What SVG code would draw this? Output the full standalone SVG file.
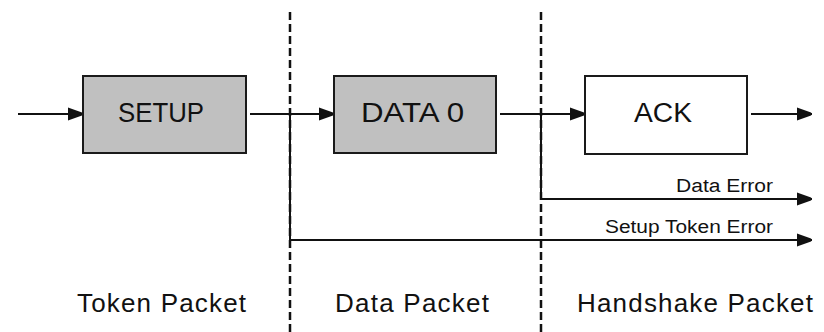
<svg xmlns="http://www.w3.org/2000/svg" width="824" height="332" viewBox="0 0 824 332">
<style>
.box{stroke:#1a1a1a;stroke-width:2}
.grey{fill:#c0c0c0}
.white{fill:#ffffff}
.ln{fill:none;stroke:#111;stroke-width:2}
.dash{fill:none;stroke:#111;stroke-width:2.5;stroke-dasharray:8 4}
.lbl{font-family:"Liberation Sans",Arial,sans-serif;font-size:26px;fill:#111}
.big{font-family:"Liberation Sans",Arial,sans-serif;font-size:27px;fill:#111}
.small{font-family:"Liberation Sans",Arial,sans-serif;font-size:18px;fill:#111}
</style>
<defs>
<marker id="arr" markerUnits="userSpaceOnUse" markerWidth="18" markerHeight="16" viewBox="-16 -8 18 16" refX="0" refY="0" orient="auto">
<path d="M-15,-6.5 L-1,-1.5 L0,0 L-1,1.5 L-15,6.5 Z" fill="#111"/>
</marker>
</defs>
<rect width="824" height="332" fill="#ffffff"/>
<g id="separators">
<line class="dash" x1="290" y1="12" x2="290" y2="332"/>
<line class="dash" x1="541" y1="12" x2="541" y2="332"/>
</g>
<g id="connectors">
<line class="ln" x1="18" y1="114" x2="83" y2="114" marker-end="url(#arr)"/>
<line class="ln" x1="250" y1="114" x2="334" y2="114" marker-end="url(#arr)"/>
<line class="ln" x1="500" y1="114" x2="585" y2="114" marker-end="url(#arr)"/>
<line class="ln" x1="751" y1="114" x2="812" y2="114" marker-end="url(#arr)"/>
<polyline class="ln" points="541,114 541,199 812,199" marker-end="url(#arr)"/>
<polyline class="ln" points="290,114 290,240 812,240" marker-end="url(#arr)"/>
<text class="small" x="773" y="192" text-anchor="end" textLength="97" lengthAdjust="spacingAndGlyphs">Data Error</text>
<text class="small" x="773" y="233" text-anchor="end" textLength="168" lengthAdjust="spacingAndGlyphs">Setup Token Error</text>
</g>
<g id="setup">
<rect class="box grey" x="83" y="76" width="163" height="77"/>
<text class="big" x="161" y="121.5" text-anchor="middle" textLength="86" lengthAdjust="spacingAndGlyphs">SETUP</text>
</g>
<g id="data0">
<rect class="box grey" x="334" y="76" width="162" height="77"/>
<text class="big" x="412.5" y="121.5" text-anchor="middle" textLength="103" lengthAdjust="spacingAndGlyphs">DATA 0</text>
</g>
<g id="ack">
<rect class="box white" x="585" y="76" width="162" height="78"/>
<text class="big" x="663" y="121.5" text-anchor="middle" textLength="58" lengthAdjust="spacingAndGlyphs">ACK</text>
</g>
<g id="phase-labels">
<text class="lbl" x="77" y="312" textLength="169" lengthAdjust="spacing">Token Packet</text>
<text class="lbl" x="335" y="312" textLength="154" lengthAdjust="spacing">Data Packet</text>
<text class="lbl" x="577" y="312" textLength="236" lengthAdjust="spacing">Handshake Packet</text>
</g>
</svg>
